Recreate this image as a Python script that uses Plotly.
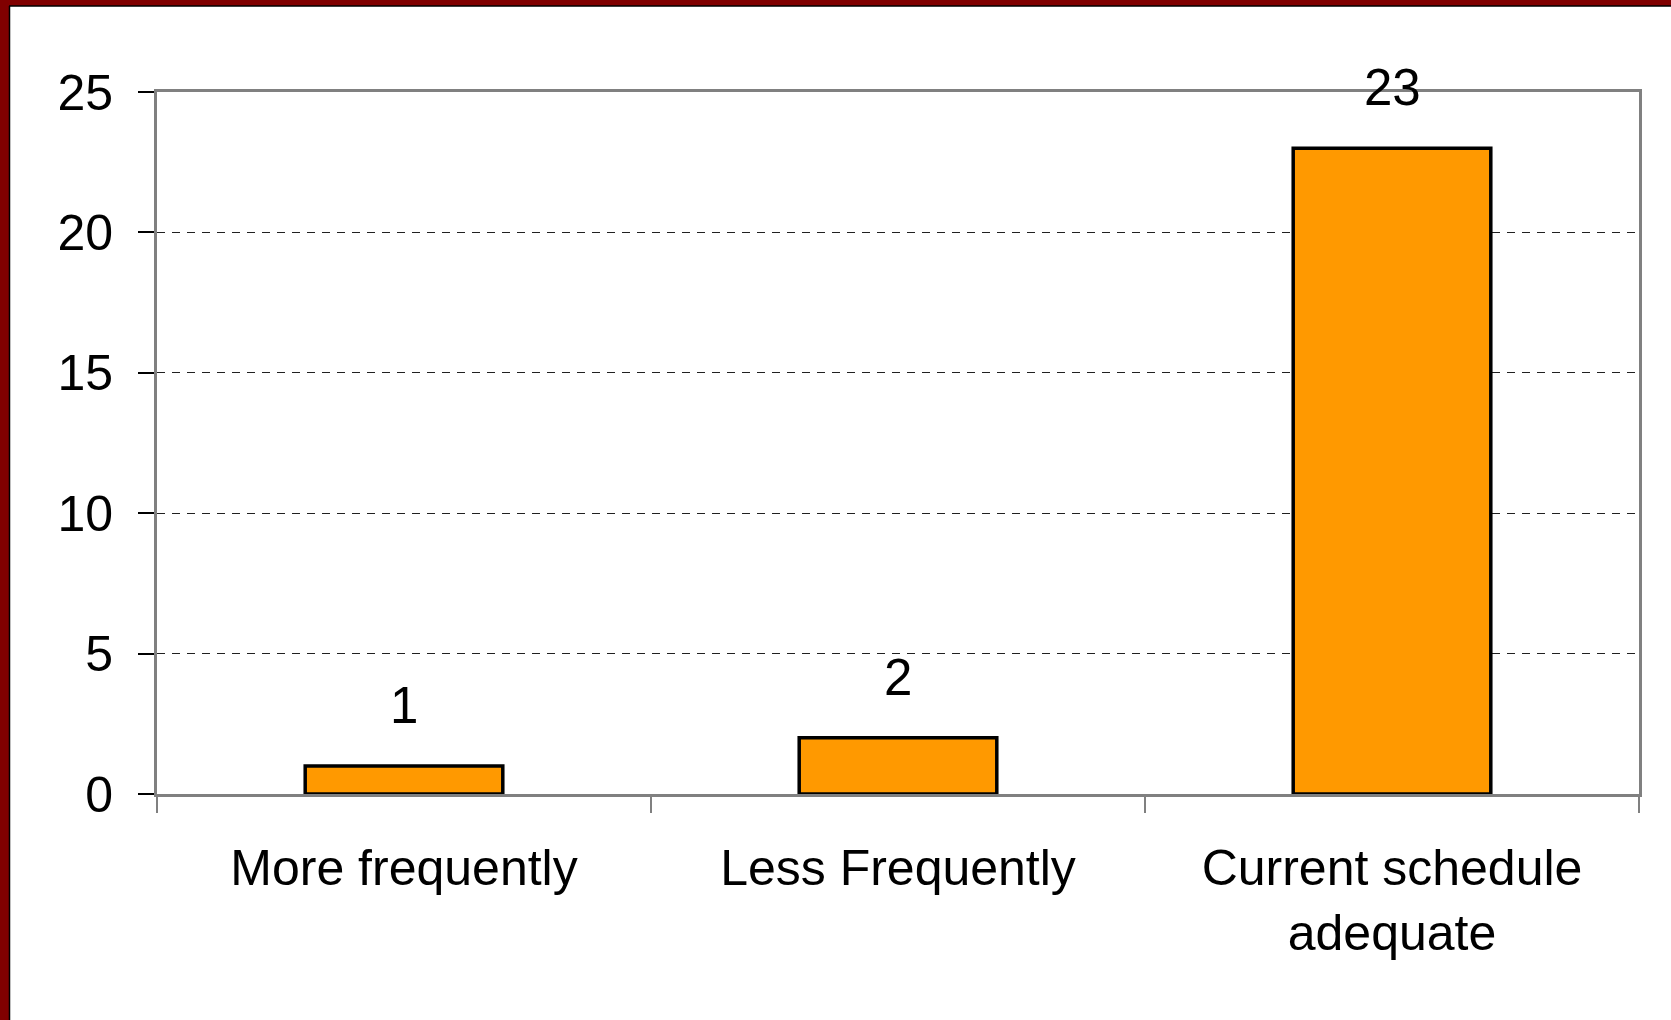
import plotly.graph_objects as go

categories = ["More frequently", "Less Frequently", "Current schedule<br>adequate"]
values = [1, 2, 23]
y_ticks = [0, 5, 10, 15, 20, 25]

W, H = 1671, 1020
ML, MR, MT, MB = 157, 32, 92, 226
pw, ph = W - ML - MR, H - MT - MB

def px_x(p):
    return (p - ML) / pw

def px_y(p):
    return 1 - (p - MT) / ph

FONT = "Liberation Sans, Arial, sans-serif"

fig = go.Figure()
fig.add_trace(go.Bar(
    x=categories, y=values,
    marker=dict(color="#FF9900", line=dict(color="black", width=3.5)),
    width=0.4,
))

for c, v in zip(categories, values):
    fig.add_annotation(x=c, y=v, text=str(v), showarrow=False,
                       yanchor="bottom", yshift=30,
                       font=dict(family=FONT, size=51, color="black"))

# frame border (dark red)
shapes = [
    dict(type="rect", xref="paper", yref="paper", x0=px_x(0), x1=px_x(W), y0=px_y(0), y1=px_y(6),
         fillcolor="#800000", line=dict(width=0), layer="above"),
    dict(type="rect", xref="paper", yref="paper", x0=px_x(0), x1=px_x(9), y0=px_y(0), y1=px_y(H),
         fillcolor="#800000", line=dict(width=0), layer="above"),
    dict(type="line", xref="paper", yref="paper", x0=px_x(9), x1=px_x(W), y0=px_y(6), y1=px_y(6),
         line=dict(color="black", width=1.5), layer="above"),
    dict(type="line", xref="paper", yref="paper", x0=px_x(9.5), x1=px_x(9.5), y0=px_y(6), y1=px_y(H),
         line=dict(color="black", width=1.5), layer="above"),
]

fig.update_layout(
    width=W, height=H,
    margin=dict(l=ML, r=MR, t=MT, b=MB),
    paper_bgcolor="white", plot_bgcolor="white",
    showlegend=False,
    shapes=shapes,
    font=dict(family=FONT, size=50, color="black"),
    xaxis=dict(
        showline=True, linecolor="#808080", linewidth=3, mirror=True,
        ticks="outside", tickson="boundaries", ticklen=16, tickcolor="#808080", tickwidth=1.5,
        tickfont=dict(family=FONT, size=50, color="black"),
        ticklabelstandoff=28,
        showgrid=False,
    ),
    yaxis=dict(
        range=[0, 25], tickvals=y_ticks,
        showline=True, linecolor="#808080", linewidth=3, mirror=True,
        ticks="outside", ticklen=16, tickcolor="black", tickwidth=1.5,
        tickfont=dict(family=FONT, size=50, color="black"),
        ticklabelstandoff=15,
        showgrid=True, gridcolor="#202020", gridwidth=1.4, griddash="8px,7px",
        zeroline=False,
    ),
)

fig.write_html("out.html", config={"displayModeBar": False},
               post_script="document.body.style.margin='0';document.body.style.overflow='hidden';")
